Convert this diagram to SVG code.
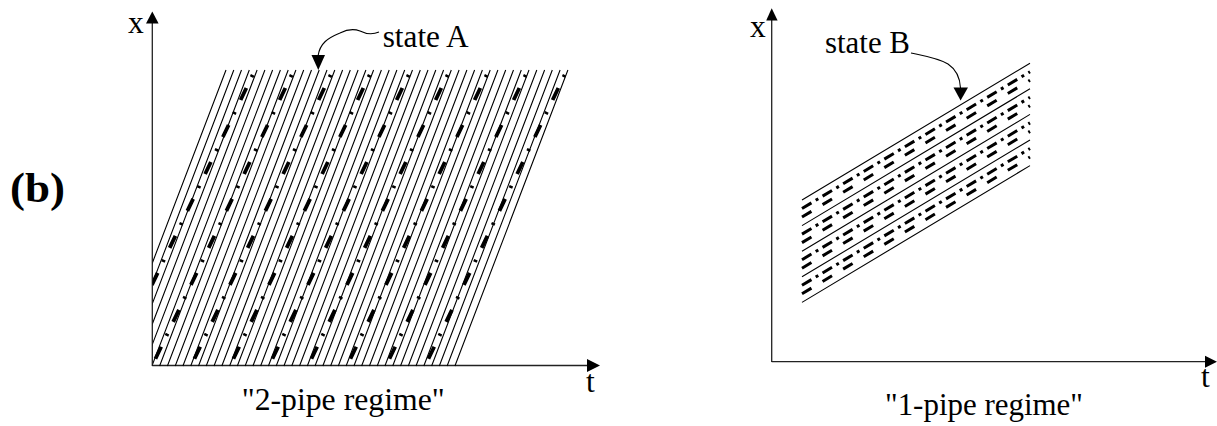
<svg xmlns="http://www.w3.org/2000/svg" width="1217" height="426" viewBox="0 0 1217 426">
<style>
text{font-family:"Liberation Serif","Times New Roman",serif;fill:#000}
.lbl{font-size:31.5px}
.axis{stroke:#222;stroke-width:1.3;fill:none}
.thin{stroke:#000;stroke-width:1.1;fill:none}
.dd{stroke:#000;stroke-width:3.8;fill:none;stroke-dasharray:2.5 12.1 13.3 13.1;stroke-dashoffset:35.6}
.ra{stroke:#000;stroke-width:3;fill:none;stroke-dasharray:11 5 3 5}
.rb{stroke:#000;stroke-width:3;fill:none;stroke-dasharray:11 13}
.lead{stroke:#000;stroke-width:1.1;fill:none}
</style>
<defs>
<clipPath id="clipL"><rect x="152.6" y="0" width="460" height="426"/></clipPath>
<clipPath id="clipP"><polygon points="152.6,366 455.5,366 568.5,69 225.5,69 152.6,262"/></clipPath>
</defs>
<g id="label-b"><text x="10" y="202" font-size="42" font-weight="bold" textLength="55" lengthAdjust="spacingAndGlyphs">(b)</text></g>

<g id="left-panel">
<g id="left-axes">
<line class="axis" x1="152.3" y1="366" x2="152.3" y2="22"/>
<polygon points="146,23.5 158.6,23.5 152.3,11.5"/>
<line class="axis" x1="152.3" y1="365.5" x2="588" y2="365.5"/>
<polygon points="587,359 587,372 600,365.5"/>
<text class="lbl" x="128" y="33">x</text>
<text class="lbl" x="586" y="392">t</text>
</g>
<g id="left-lines">
<path class="thin" clip-path="url(#clipL)" d="M113 366L226 70M120.8 366L233.8 70M128.5 366L241.5 70M136.3 366L249.3 70M144.1 366L257.1 70M151.9 366L264.9 70M159.6 366L272.6 70M167.4 366L280.4 70M175.2 366L288.2 70M182.9 366L295.9 70M190.7 366L303.7 70M198.5 366L311.5 70M206.2 366L319.2 70M214 366L327 70M221.8 366L334.8 70M229.6 366L342.6 70M237.3 366L350.3 70M245.1 366L358.1 70M252.9 366L365.9 70M260.6 366L373.6 70M268.4 366L381.4 70M276.2 366L389.2 70M283.9 366L396.9 70M291.7 366L404.7 70M299.5 366L412.5 70M307.3 366L420.3 70M315 366L428 70M322.8 366L435.8 70M330.6 366L443.6 70M338.3 366L451.3 70M346.1 366L459.1 70M353.9 366L466.9 70M361.6 366L474.6 70M369.4 366L482.4 70M377.2 366L490.2 70M384.9 366L497.9 70M392.7 366L505.7 70M400.5 366L513.5 70M408.3 366L521.3 70M416 366L529 70M423.8 366L536.8 70M431.6 366L544.6 70M439.3 366L552.3 70M447.1 366L560.1 70M454.9 366L567.9 70"/>
<path class="dd" clip-path="url(#clipP)" d="M255 70L113 366M294 70L152 366M333 70L191 366M372 70L230 366M411 70L269 366M450 70L308 366M489 70L347 366M528 70L386 366M567 70L425 366"/>
</g>
<g id="state-A">
<path class="lead" d="M379 32C372 35 366 34 360 31C352 28 346 30 340 33C328 38 320 43 318 56"/>
<polygon points="311.5,55 325,55 318.3,70"/>
<text class="lbl" x="382.7" y="47" textLength="86" lengthAdjust="spacingAndGlyphs">state A</text>
</g>
<text class="lbl" x="241.7" y="410" textLength="203" lengthAdjust="spacingAndGlyphs">"2-pipe regime"</text>
</g>

<g id="right-panel">
<g id="right-axes">
<line class="axis" x1="771.7" y1="362" x2="771.7" y2="19"/>
<polygon points="766.2,20.5 777.6,20.5 771.7,8.3"/>
<line class="axis" x1="771.7" y1="361.7" x2="1206" y2="361.7"/>
<polygon points="1205,355.7 1205,367.7 1217,361.7"/>
<text class="lbl" x="750" y="37">x</text>
<text class="lbl" x="1201" y="387">t</text>
</g>
<g id="right-lines">
<path class="thin" d="M802 200L1030 63.2M802 225.6L1030 88.8M802 251.2L1030 114.4M802 276.8L1030 140M802 302.4L1030 165.6"/>
<path class="ra" d="M802 208.5L1030 71.7M802 234.1L1030 97.3M802 259.7L1030 122.9M802 285.3L1030 148.5"/>
<path class="rb" d="M802 217L1030 80.2M802 242.6L1030 105.8M802 268.2L1030 131.4M802 293.8L1030 157"/>
</g>
<g id="state-B">
<path class="lead" d="M911 53C925 56 938 58 948 64C957 70 960 78 960.5 88"/>
<polygon points="953.5,87.5 968,87.5 960.6,100.5"/>
<text class="lbl" x="825" y="53" textLength="85" lengthAdjust="spacingAndGlyphs">state B</text>
</g>
<text class="lbl" x="885" y="415" textLength="198" lengthAdjust="spacingAndGlyphs">"1-pipe regime"</text>
</g>
</svg>
